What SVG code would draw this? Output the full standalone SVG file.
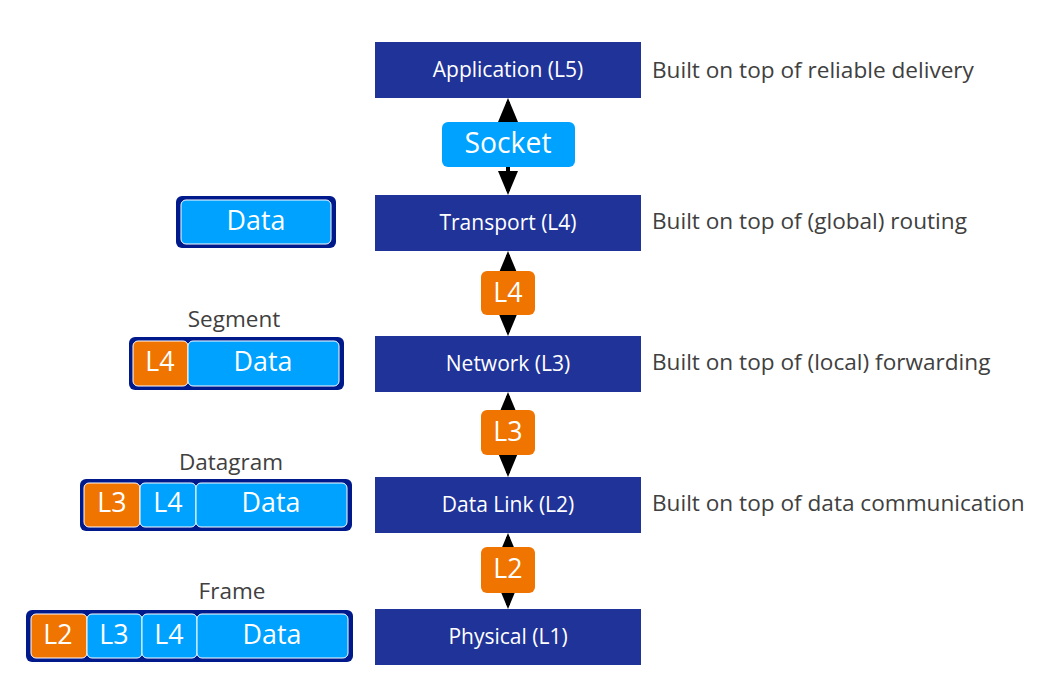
<svg xmlns="http://www.w3.org/2000/svg" width="1038" height="689" viewBox="0 0 1038 689">
<defs>
<marker id="ah" viewBox="0 0 24 20" refX="20" refY="10" markerWidth="24" markerHeight="20" markerUnits="userSpaceOnUse" orient="auto-start-reverse">
<path d="M0,0 L24,10 L0,20 z" fill="#000"/>
</marker>
<style>
.layer{fill:#1f3399;}
.lt{font-family:"Open Sans","Liberation Sans",sans-serif;font-size:21px;fill:#fff;text-anchor:middle;dominant-baseline:central;}
.side{font-family:"Open Sans","Liberation Sans",sans-serif;font-size:22.6px;fill:#404040;dominant-baseline:central;}
.cap{font-family:"Open Sans","Liberation Sans",sans-serif;font-size:22.5px;fill:#404040;text-anchor:middle;dominant-baseline:central;}
.big{font-family:"Open Sans","Liberation Sans",sans-serif;font-size:26.8px;fill:#fff;text-anchor:middle;dominant-baseline:central;}
.outer{fill:#001a8c;}
.lb{fill:#00a2ff;stroke:#fff;stroke-width:1;}
.or{fill:#f07400;stroke:#fff;stroke-width:1;}
.conn{stroke:#000;stroke-width:4;fill:none;}
</style>
</defs>
<rect width="1038" height="689" fill="#fff"/>

<g id="connectors">
<line class="conn" x1="508" y1="102" x2="508" y2="191" marker-start="url(#ah)" marker-end="url(#ah)"/>
<line class="conn" x1="508" y1="255" x2="508" y2="332" marker-start="url(#ah)" marker-end="url(#ah)"/>
<line class="conn" x1="508" y1="396" x2="508" y2="473" marker-start="url(#ah)" marker-end="url(#ah)"/>
<line class="conn" x1="508" y1="537" x2="508" y2="605" marker-start="url(#ah)" marker-end="url(#ah)"/>
</g>

<g id="application">
<rect class="layer" x="375" y="42" width="266" height="56"/>
<text class="lt" x="508" y="69">Application (L5)</text>
</g>
<g id="transport">
<rect class="layer" x="375" y="195" width="266" height="56"/>
<text class="lt" x="508" y="222">Transport (L4)</text>
</g>
<g id="network">
<rect class="layer" x="375" y="336" width="266" height="56"/>
<text class="lt" x="508" y="363">Network (L3)</text>
</g>
<g id="datalink">
<rect class="layer" x="375" y="477" width="266" height="56"/>
<text class="lt" x="508" y="504">Data Link (L2)</text>
</g>
<g id="physical">
<rect class="layer" x="375" y="609" width="266" height="56"/>
<text class="lt" x="508" y="636">Physical (L1)</text>
</g>

<g id="socket">
<rect x="442" y="122" width="133" height="45" rx="6" fill="#00a2ff"/>
<text class="big" x="508" y="142" style="font-size:28.3px">Socket</text>
</g>
<g id="hdr-l4">
<rect x="481" y="271" width="54" height="44" rx="6" fill="#f07400"/>
<text class="big" x="508" y="291">L4</text>
</g>
<g id="hdr-l3">
<rect x="481" y="410" width="54" height="45" rx="6" fill="#f07400"/>
<text class="big" x="508" y="430">L3</text>
</g>
<g id="hdr-l2">
<rect x="481" y="547" width="54" height="46" rx="6" fill="#f07400"/>
<text class="big" x="508" y="567">L2</text>
</g>

<g id="side-texts">
<text class="side" x="652" y="69">Built on top of reliable delivery</text>
<text class="side" x="652" y="220">Built on top of (global) routing</text>
<text class="side" x="652" y="361">Built on top of (local) forwarding</text>
<text class="side" x="652" y="502">Built on top of data communication</text>
</g>

<g id="data">
<rect class="outer" x="176" y="196" width="160" height="52" rx="6"/>
<rect class="lb" x="181" y="200" width="150" height="44" rx="5"/>
<text class="big" x="256" y="219">Data</text>
</g>

<g id="segment">
<text class="cap" x="234" y="318">Segment</text>
<rect class="outer" x="129" y="337" width="215" height="53" rx="6"/>
<rect class="or" x="133" y="341" width="55" height="45" rx="5"/>
<rect class="lb" x="188" y="341" width="151" height="45" rx="5"/>
<text class="big" x="160" y="360">L4</text>
<text class="big" x="263" y="360">Data</text>
</g>

<g id="datagram">
<text class="cap" x="231" y="461">Datagram</text>
<rect class="outer" x="80" y="479" width="272" height="52" rx="6"/>
<rect class="or" x="84" y="483" width="56" height="44" rx="5"/>
<rect class="lb" x="140" y="483" width="56" height="44" rx="5"/>
<rect class="lb" x="196" y="483" width="151" height="44" rx="5"/>
<text class="big" x="112" y="501">L3</text>
<text class="big" x="168" y="501">L4</text>
<text class="big" x="271" y="501">Data</text>
</g>

<g id="frame">
<text class="cap" x="232" y="590">Frame</text>
<rect class="outer" x="26" y="610" width="327" height="52" rx="6"/>
<rect class="or" x="31" y="614" width="56" height="44" rx="5"/>
<rect class="lb" x="87" y="614" width="55" height="44" rx="5"/>
<rect class="lb" x="142" y="614" width="55" height="44" rx="5"/>
<rect class="lb" x="197" y="614" width="151" height="44" rx="5"/>
<text class="big" x="58" y="633">L2</text>
<text class="big" x="114" y="633">L3</text>
<text class="big" x="169" y="633">L4</text>
<text class="big" x="272" y="633">Data</text>
</g>
</svg>
